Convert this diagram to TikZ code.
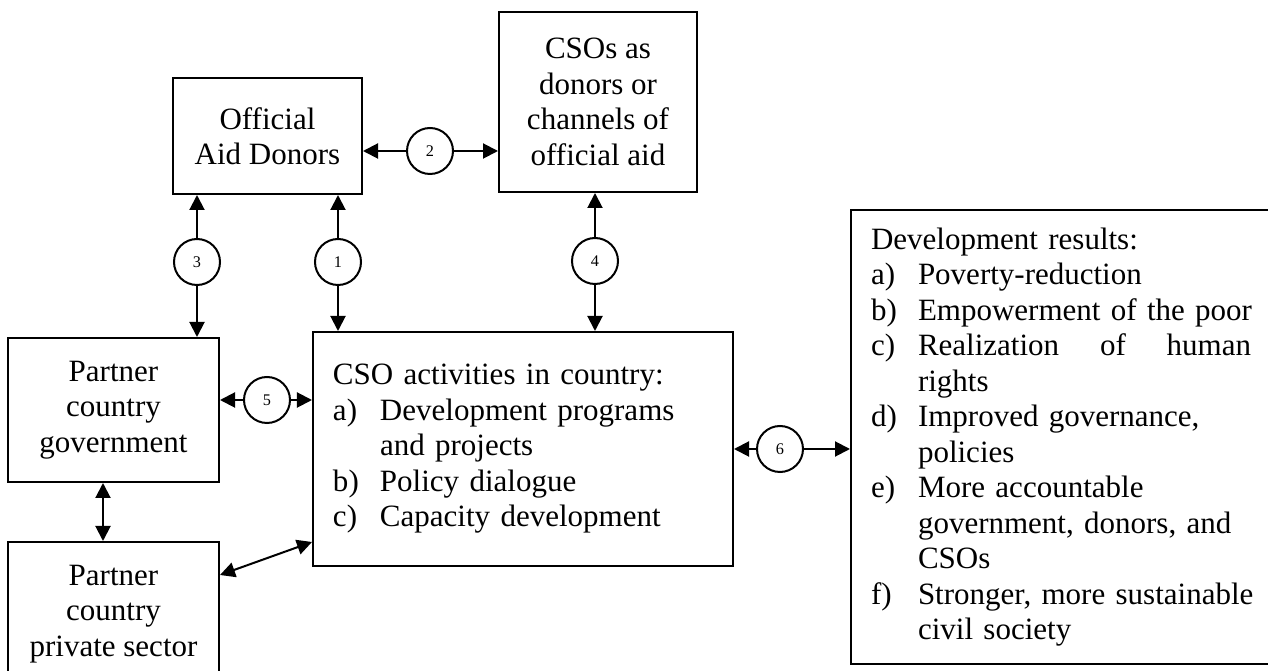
\documentclass[tikz,border=0pt]{standalone}
\usepackage{fontspec}
\setmainfont{Liberation Serif}
\usepackage{tikz}
\usetikzlibrary{arrows.meta}

\newcommand\itemlbl[1]{\makebox[18.8pt][l]{#1}}

\begin{document}
\begin{tikzpicture}[x=0.4pt,y=-0.4pt,>={Triangle[length=6pt,width=6pt]},line width=0.8pt,
    orgbox/.style={draw, align=center, inner sep=0pt, font=\fontsize{12.4}{14.2}\selectfont},
    listbox/.style={draw, align=left, inner xsep=8pt, inner ysep=0pt, font=\fontsize{12.4}{14.2}\selectfont},
    linknum/.style={draw, circle, fill=white, minimum size=18.4pt, inner sep=0pt, font=\fontsize{6.5}{7}\selectfont}]
    \clip (0,0) rectangle (1268,671);

    \node[orgbox, minimum width=75.6pt, minimum height=46.4pt] (donors) at (267.5,136) {Official\\Aid Donors};
    \node[orgbox, minimum width=79.2pt, minimum height=72pt] (csos) at (598,102) {CSOs as\\donors or\\channels of\\official aid};
    \node[orgbox, minimum width=84.4pt, minimum height=57.6pt] (govt) at (113.5,410) {Partner\\country\\government};
    \node[orgbox, minimum width=84.4pt, minimum height=57.6pt] (private) at (113.5,614) {Partner\\country\\private sector};
    \node[listbox, text width=152pt, minimum height=93.6pt] (activities) at (523,449) {%
      CSO activities in country:\\
      \itemlbl{a)}Development programs\\
      \itemlbl{}and projects\\
      \itemlbl{b)}Policy dialogue\\
      \itemlbl{c)}Capacity development};
    \node[listbox, text width=162pt, minimum height=181.6pt, anchor=north west] (results) at (850,209) {%
      Development results:\\
      \itemlbl{a)}Poverty-reduction\\
      \itemlbl{b)}Empowerment of the poor\\
      \itemlbl{c)}\makebox[133.2pt][s]{Realization\hfill of\hfill human}\\
      \itemlbl{}rights\\
      \itemlbl{d)}Improved governance,\\
      \itemlbl{}policies\\
      \itemlbl{e)}More accountable\\
      \itemlbl{}government, donors, and\\
      \itemlbl{}CSOs\\
      \itemlbl{f)}Stronger, more sustainable\\
      \itemlbl{}civil society};

    \node[linknum] (l1) at (338,262) {1};
    \node[linknum] (l2) at (430,151) {2};
    \node[linknum] (l3) at (197,262) {3};
    \node[linknum] (l4) at (595,261) {4};
    \node[linknum] (l5) at (267,400) {5};
    \node[linknum] (l6) at (780,449) {6};

    \draw[->] (l1) -- (l1 |- donors.south);
    \draw[->] (l1) -- (l1 |- activities.north);
    \draw[->] (l2) -- (l2 -| donors.east);
    \draw[->] (l2) -- (l2 -| csos.west);
    \draw[->] (l3) -- (l3 |- donors.south);
    \draw[->] (l3) -- (l3 |- govt.north);
    \draw[->] (l4) -- (l4 |- csos.south);
    \draw[->] (l4) -- (l4 |- activities.north);
    \draw[->] (l5) -- (l5 -| govt.east);
    \draw[->] (l5) -- (l5 -| activities.west);
    \draw[->] (l6) -- (l6 -| activities.east);
    \draw[->] (l6) -- (l6 -| results.west);
    \draw[<->] ([xshift=-4.2pt]govt.south) -- ([xshift=-4.2pt]private.north);
    \draw[<->] ([yshift=15.6pt]private.east) -- ([yshift=-37.2pt]activities.west);
\end{tikzpicture}
\end{document}
